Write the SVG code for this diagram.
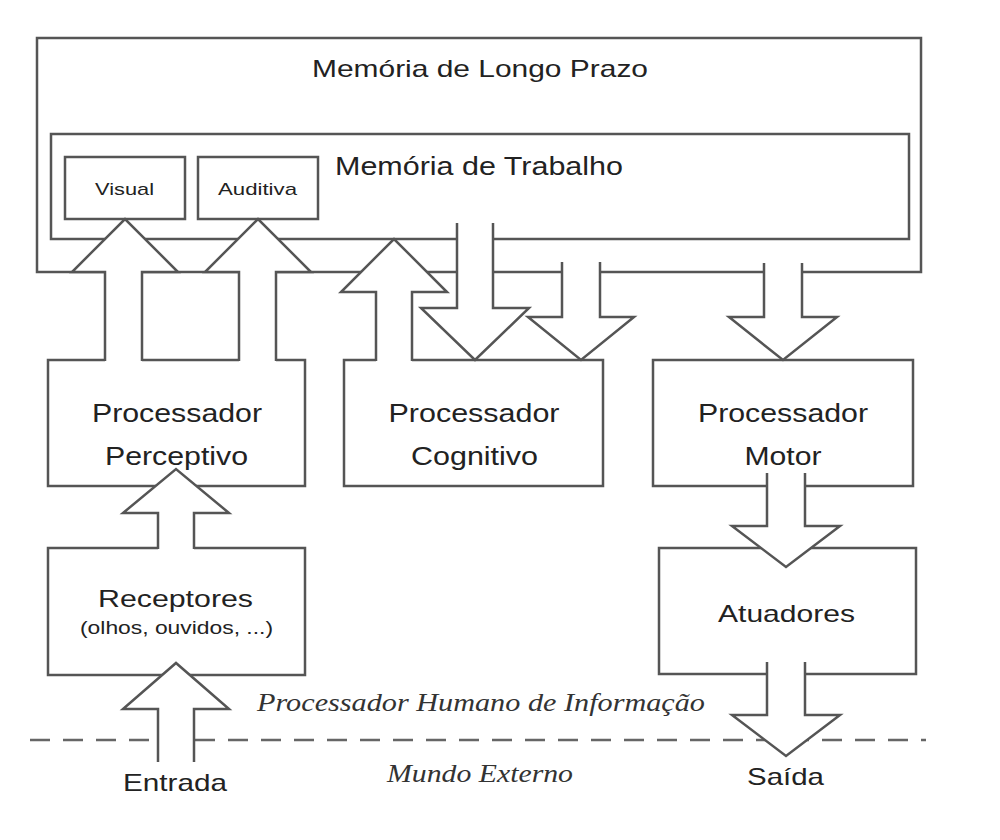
<svg xmlns="http://www.w3.org/2000/svg" width="1000" height="840" viewBox="0 0 1000 840">
<style>
.box{fill:#fff;stroke:#555;stroke-width:2.5}
.af{fill:#fff;stroke:none}
.ao{fill:none;stroke:#555;stroke-width:2.5;stroke-linejoin:miter}
.t{font-family:"Liberation Sans",Arial,sans-serif;fill:#222;text-anchor:middle}
.i{font-family:"Liberation Serif","Times New Roman",serif;font-style:italic;fill:#333;text-anchor:middle}
.dash{stroke:#666;stroke-width:2.5;stroke-dasharray:20 13;fill:none}
</style>
<rect width="1000" height="840" fill="#fff"/>
<g id="ltm">
<rect class="box" x="37" y="38" width="884" height="234"/>
</g>
<g id="wm">
<rect class="box" x="51" y="134" width="858" height="105"/>
</g>
<g id="visual">
<rect class="box" x="65" y="157" width="120" height="62"/>
</g>
<g id="auditiva">
<rect class="box" x="198" y="157" width="120" height="62"/>
</g>
<g id="perceptivo">
<rect class="box" x="48" y="360" width="257" height="126"/>
</g>
<g id="cognitivo">
<rect class="box" x="344" y="360" width="259" height="126"/>
</g>
<g id="motor">
<rect class="box" x="653" y="360" width="260" height="126"/>
</g>
<g id="receptores">
<rect class="box" x="48" y="548" width="257" height="127"/>
</g>
<g id="atuadores">
<rect class="box" x="659" y="548" width="257" height="126"/>
</g>
<g id="divider">
<line class="dash" x1="30" y1="740" x2="926" y2="740"/>
</g>
<g id="connectors">
<!-- Perceptivo -> Visual -->
<polygon class="af" points="105,362 105,272 72,272 125,219 178,272 142,272 142,362"/>
<polyline class="ao" points="105,361 105,272 72,272 125,219 178,272 142,272 142,361"/>
<!-- Perceptivo -> Auditiva -->
<polygon class="af" points="239,362 239,272 205,272 258,219 311,272 276,272 276,362"/>
<polyline class="ao" points="239,361 239,272 205,272 258,219 311,272 276,272 276,361"/>
<!-- Cognitivo -> WM -->
<polygon class="af" points="376,362 376,292 341,292 394,239 447,292 412,292 412,362"/>
<polyline class="ao" points="376,361 376,292 341,292 394,239 447,292 412,292 412,361"/>
<!-- WM -> Cognitivo -->
<polygon class="af" points="457,223 457,308 421,308 475,360 529,308 493,308 493,223"/>
<polyline class="ao" points="457,223 457,308 421,308 475,360 529,308 493,308 493,223"/>
<!-- LTM -> Cognitivo -->
<polygon class="af" points="562,262 562,317 528,317 581,360 634,317 600,317 600,262"/>
<polyline class="ao" points="562,262 562,317 528,317 581,360 634,317 600,317 600,262"/>
<!-- LTM -> Motor -->
<polygon class="af" points="764,263 764,317 729,317 783,360 837,317 802,317 802,263"/>
<polyline class="ao" points="764,263 764,317 729,317 783,360 837,317 802,317 802,263"/>
<!-- Receptores -> Perceptivo -->
<polygon class="af" points="158,550 158,513 123,513 176,469 229,513 194,513 194,550"/>
<polyline class="ao" points="158,549 158,513 123,513 176,469 229,513 194,513 194,549"/>
<!-- Entrada -> Receptores -->
<polygon class="af" points="158,762 158,709 123,709 176,663 229,709 194,709 194,762"/>
<polyline class="ao" points="158,762 158,709 123,709 176,663 229,709 194,709 194,762"/>
<!-- Motor -> Atuadores -->
<polygon class="af" points="767,473 767,526 732,526 786,567 840,526 805,526 805,473"/>
<polyline class="ao" points="767,473 767,526 732,526 786,567 840,526 805,526 805,473"/>
<!-- Atuadores -> Saida -->
<polygon class="af" points="767,662 767,715 732,715 786,756 840,715 805,715 805,662"/>
<polyline class="ao" points="767,662 767,715 732,715 786,756 840,715 805,715 805,662"/>
</g>
<g id="labels">
<text class="t" x="480" y="77" font-size="24" textLength="336" lengthAdjust="spacingAndGlyphs">Memória de Longo Prazo</text>
<text class="t" x="479" y="175" font-size="25" textLength="288" lengthAdjust="spacingAndGlyphs">Memória de Trabalho</text>
<text class="t" x="124.5" y="195" font-size="17" textLength="59" lengthAdjust="spacingAndGlyphs">Visual</text>
<text class="t" x="257.5" y="195" font-size="17" textLength="79" lengthAdjust="spacingAndGlyphs">Auditiva</text>
<text class="t" x="177" y="422" font-size="25" textLength="170" lengthAdjust="spacingAndGlyphs">Processador</text>
<text class="t" x="176.5" y="465" font-size="25" textLength="143" lengthAdjust="spacingAndGlyphs">Perceptivo</text>
<text class="t" x="474" y="422" font-size="25" textLength="171" lengthAdjust="spacingAndGlyphs">Processador</text>
<text class="t" x="474.5" y="465" font-size="25" textLength="127" lengthAdjust="spacingAndGlyphs">Cognitivo</text>
<text class="t" x="783" y="422" font-size="25" textLength="170" lengthAdjust="spacingAndGlyphs">Processador</text>
<text class="t" x="783" y="465" font-size="25" textLength="77" lengthAdjust="spacingAndGlyphs">Motor</text>
<text class="t" x="175.5" y="607" font-size="24" textLength="155" lengthAdjust="spacingAndGlyphs">Receptores</text>
<text class="t" x="176.5" y="634" font-size="18" textLength="193" lengthAdjust="spacingAndGlyphs">(olhos, ouvidos, ...)</text>
<text class="t" x="786.5" y="622" font-size="24" textLength="137" lengthAdjust="spacingAndGlyphs">Atuadores</text>
<text class="t" x="175" y="791" font-size="24" textLength="104" lengthAdjust="spacingAndGlyphs">Entrada</text>
<text class="t" x="785.5" y="785" font-size="24" textLength="77" lengthAdjust="spacingAndGlyphs">Saída</text>
<text class="i" x="481" y="711" font-size="26" textLength="448" lengthAdjust="spacingAndGlyphs">Processador Humano de Informação</text>
<text class="i" x="480" y="782" font-size="26" textLength="186" lengthAdjust="spacingAndGlyphs">Mundo Externo</text>
</g>
</svg>
